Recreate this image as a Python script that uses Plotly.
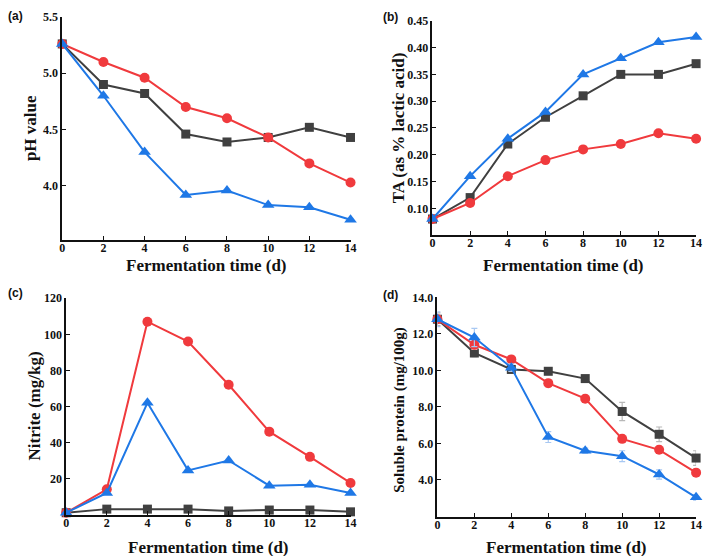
import plotly.graph_objects as go

# ---------------- data ----------------
days = [0, 2, 4, 6, 8, 10, 12, 14]
x_tick_vals = [0, 2, 4, 6, 8, 10, 12, 14]

ph_black = [5.26, 4.90, 4.82, 4.46, 4.39, 4.43, 4.52, 4.43]
ph_red = [5.26, 5.10, 4.96, 4.70, 4.60, 4.43, 4.20, 4.03]
ph_blue = [5.26, 4.80, 4.30, 3.92, 3.96, 3.83, 3.81, 3.70]

ta_black = [0.08, 0.12, 0.22, 0.27, 0.31, 0.35, 0.35, 0.37]
ta_red = [0.08, 0.11, 0.16, 0.19, 0.21, 0.22, 0.24, 0.23]
ta_blue = [0.08, 0.16, 0.23, 0.28, 0.35, 0.38, 0.41, 0.42]

nit_black = [1.0, 3.0, 3.0, 3.0, 2.0, 2.5, 2.5, 1.5]
nit_red = [1.0, 14.0, 107.0, 96.0, 72.0, 46.0, 32.0, 17.5]
nit_blue = [1.0, 12.0, 62.0, 24.5, 30.0, 16.0, 16.5, 12.0]

sp_black = [12.8, 10.95, 10.05, 9.95, 9.55, 7.75, 6.5, 5.2]
sp_red = [12.8, 11.4, 10.6, 9.3, 8.45, 6.25, 5.65, 4.4]
sp_blue = [12.8, 11.8, 10.15, 6.35, 5.6, 5.3, 4.3, 3.05]
sp_black_err = [0.35, 0.2, 0.2, 0.15, 0.15, 0.5, 0.4, 0.4]
sp_red_err = [0.2, 0.25, 0.15, 0.2, 0.2, 0.2, 0.2, 0.2]
sp_blue_err = [0.4, 0.5, 0.2, 0.3, 0.15, 0.3, 0.25, 0.15]

ph_ticks = [4.0, 4.5, 5.0, 5.5]
ta_ticks = [0.10, 0.15, 0.20, 0.25, 0.30, 0.35, 0.40, 0.45]
nit_ticks = [20, 40, 60, 80, 100, 120]
sp_ticks = [4.0, 6.0, 8.0, 10.0, 12.0, 14.0]

panel_labels = ["(a)", "(b)", "(c)", "(d)"]
y_titles = ["pH value", "TA (as % lactic acid)", "Nitrite (mg/kg)", "Soluble protein (mg/100g)"]
x_title = "Fermentation time (d)"

# ---------------- styling ----------------
W, H = 709, 556
BLACK = "#404040"
RED = "#f03a3d"
BLUE = "#1f78e6"
ERR = {"black": "#b8b8b8", "red": "#f7a8a8", "blue": "#a8c8f2"}
SERIF = "Liberation Serif"


def fx(px):
    return px / W


def fy(py):
    return 1 - py / H


panels = [
    dict(xd=(60, 352), yd=(10, 236), yr=[3.52, 5.5], yt=ph_ticks, fmt=".1f",
         data=(ph_black, ph_red, ph_blue), err=None,
         lab=(3, 9), ytp=(28, 123), xtp=(206, 262), yfs=17),
    dict(xd=(435, 702), yd=(14, 231), yr=[0.05, 0.45], yt=ta_ticks, fmt=".2f",
         data=(ta_black, ta_red, ta_blue), err=None,
         lab=(383, 10), ytp=(401, 122), xtp=(568, 262), yfs=17),
    dict(xd=(64, 352), yd=(295, 514), yr=[0, 120], yt=nit_ticks, fmt="d",
         data=(nit_black, nit_red, nit_blue), err=None,
         lab=(3, 290), ytp=(32, 404), xtp=(208, 547), yfs=17),
    dict(xd=(440, 702), yd=(294, 516), yr=[2, 14], yt=sp_ticks, fmt=".1f",
         data=(sp_black, sp_red, sp_blue), err=(sp_black_err, sp_red_err, sp_blue_err),
         lab=(383, 292), ytp=(402, 408), xtp=(571, 547), yfs=15),
]

fig = go.Figure()
annotations = []
layout = dict(
    width=W, height=H,
    margin=dict(l=0, r=0, t=0, b=0),
    paper_bgcolor="white", plot_bgcolor="white",
    showlegend=False,
)

series_style = [
    ("black", BLACK, "square", 9),
    ("red", RED, "circle", 10),
    ("blue", BLUE, "triangle-up", 11),
]

for i, p in enumerate(panels):
    n = "" if i == 0 else str(i + 1)
    xa, ya = "x" + n, "y" + n
    for j, (key, col, sym, size) in enumerate(series_style):
        kw = {}
        if p["err"] is not None:
            kw["error_y"] = dict(type="data", array=p["err"][j], color=ERR[key],
                                 thickness=1.2, width=3)
        fig.add_trace(go.Scatter(
            x=days, y=p["data"][j], mode="lines+markers",
            line=dict(color=col, width=2),
            marker=dict(color=col, symbol=sym, size=size, line=dict(width=0)),
            xaxis=xa, yaxis=ya, cliponaxis=False, **kw))

    axis_common = dict(
        showgrid=False, zeroline=False, showline=True, linecolor="#111111", linewidth=1.5,
        ticks="inside", ticklen=4, tickwidth=1.2, tickcolor="#111111",
        tickfont=dict(family=SERIF, size=12, color="#111111", weight="bold"),
    )
    layout["xaxis" + n] = dict(
        axis_common, domain=[fx(p["xd"][0]), fx(p["xd"][1])], range=[0, 14],
        tickvals=x_tick_vals, anchor=ya, fixedrange=True, ticklabelstandoff=-4)
    layout["yaxis" + n] = dict(
        axis_common, domain=[fy(p["yd"][1]), fy(p["yd"][0])], range=p["yr"],
        tickvals=p["yt"], tickformat=p["fmt"], anchor=xa, fixedrange=True)

    annotations.append(dict(
        text=panel_labels[i], x=fx(p["lab"][0]), y=fy(p["lab"][1]), xref="paper", yref="paper",
        xanchor="left", yanchor="middle", showarrow=False,
        font=dict(family="Liberation Sans", size=12, color="#111111", weight="bold")))
    annotations.append(dict(
        text=y_titles[i], x=fx(p["ytp"][0]), y=fy(p["ytp"][1]), xref="paper", yref="paper",
        xanchor="center", yanchor="middle", textangle=-90, showarrow=False,
        font=dict(family=SERIF, size=p["yfs"], color="#111111", weight="bold")))
    annotations.append(dict(
        text=x_title, x=fx(p["xtp"][0]), y=fy(p["xtp"][1]), xref="paper", yref="paper",
        xanchor="center", yanchor="middle", showarrow=False,
        font=dict(family=SERIF, size=17, color="#111111", weight="bold")))

layout["annotations"] = annotations
fig.update_layout(**layout)
fig.write_html("out.html", config={"displayModeBar": False},
               post_script="document.body.style.margin='0';document.body.style.overflow='hidden';")
